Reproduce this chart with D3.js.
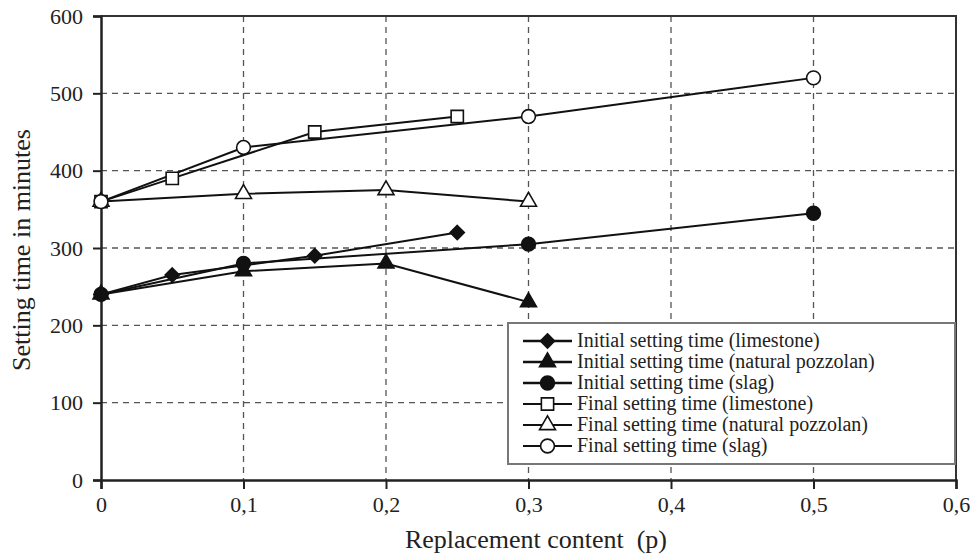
<!DOCTYPE html>
<html>
<head>
<meta charset="utf-8">
<script src="https://cdn.jsdelivr.net/npm/d3@7"></script>
<style>
  body { margin: 0; background: #fff; }
  text { font-family: "Liberation Serif", "Times New Roman", serif; fill: #222; }
  .grid line { stroke: #555; stroke-dasharray: 6,5; stroke-width: 1.3; }
  .series { fill: none; stroke: #111; stroke-width: 2; }
</style>
</head>
<body>
<div id="chart"></div>
<script>
(function setting() {

  var xTicks = [0, 0.1, 0.2, 0.3, 0.4, 0.5, 0.6];
  var yTicks = [0, 100, 200, 300, 400, 500, 600];

  var seriesNames = [
    "Initial setting time (limestone)",
    "Initial setting time (natural pozzolan)",
    "Initial setting time (slag)",
    "Final setting time (limestone)",
    "Final setting time (natural pozzolan)",
    "Final setting time (slag)"
  ];
  var seriesSymbols = ["diamond", "triangle", "circle", "square", "triangle", "circle"];
  var seriesFilled = [true, true, true, false, false, false];

  var initLimestoneP = [0, 0.05, 0.15, 0.25];
  var initLimestone = [240, 265, 290, 320];
  var initPozzolanP = [0, 0.1, 0.2, 0.3];
  var initPozzolan = [240, 270, 280, 230];
  var initSlagP = [0, 0.1, 0.3, 0.5];
  var initSlag = [240, 280, 305, 345];
  var finalLimestoneP = [0, 0.05, 0.15, 0.25];
  var finalLimestone = [360, 390, 450, 470];
  var finalPozzolanP = [0, 0.1, 0.2, 0.3];
  var finalPozzolan = [360, 370, 375, 360];
  var finalSlagP = [0, 0.1, 0.3, 0.5];
  var finalSlag = [360, 430, 470, 520];

  var seriesP = [initLimestoneP, initPozzolanP, initSlagP, finalLimestoneP, finalPozzolanP, finalSlagP];
  var seriesV = [initLimestone, initPozzolan, initSlag, finalLimestone, finalPozzolan, finalSlag];

  var margin = { top: 16, right: 17, bottom: 76, left: 101 },
    width = 973 - margin.left - margin.right,
    height = 556 - margin.top - margin.bottom;

  var x = d3.scaleLinear().domain([0, 0.6]).range([0, width]);
  var y = d3.scaleLinear().domain([0, 600]).range([height, 0]);

  var svg = d3.select("#chart").append("svg")
    .attr("width", 973)
    .attr("height", 556)
    .append("g")
    .attr("transform", "translate(" + margin.left + "," + margin.top + ")");

  // dashed grid
  svg.append("g").attr("class", "grid")
    .selectAll("line").data(yTicks.slice(1, -1)).enter().append("line")
    .attr("x1", 0).attr("x2", width)
    .attr("y1", function(d) { return y(d); }).attr("y2", function(d) { return y(d); });
  svg.append("g").attr("class", "grid")
    .selectAll("line").data(xTicks.slice(1, -1)).enter().append("line")
    .attr("y1", 0).attr("y2", height)
    .attr("x1", function(d) { return x(d); }).attr("x2", function(d) { return x(d); });

  // frame top/right
  svg.append("path")
    .attr("d", "M0,0H" + width + "V" + height)
    .attr("fill", "none").attr("stroke", "#333").attr("stroke-width", 2);

  var fmt = function(d) { return d === 0 ? "0" : d3.format(".1f")(d).replace(".", ","); };

  var xAxis = svg.append("g")
    .attr("transform", "translate(0," + height + ")")
    .call(d3.axisBottom(x).tickValues(xTicks).tickFormat(fmt).tickSize(9).tickPadding(7));
  var yAxis = svg.append("g")
    .call(d3.axisLeft(y).tickValues(yTicks).tickSize(8).tickPadding(10));

  [xAxis, yAxis].forEach(function(a) {
    a.select(".domain").attr("stroke", "#222").attr("stroke-width", 2.5);
    a.selectAll(".tick line").attr("stroke", "#222").attr("stroke-width", 2);
    a.selectAll(".tick text")
      .style("font-family", "Liberation Serif, serif")
      .style("font-size", "22px").attr("fill", "#222");
  });

  var diamond = {
    draw: function(ctx, size) {
      var r = Math.sqrt(size / 2);
      ctx.moveTo(0, -r); ctx.lineTo(r, 0); ctx.lineTo(0, r); ctx.lineTo(-r, 0); ctx.closePath();
    }
  };

  function symbolPath(kind) {
    var sym = { diamond: diamond, triangle: d3.symbolTriangle, circle: d3.symbolCircle, square: d3.symbolSquare }[kind];
    var size = { diamond: 100, triangle: 110, circle: 150, square: 150 }[kind];
    return d3.symbol().type(sym).size(size)();
  }

  var line = d3.line()
    .x(function(d) { return x(d[0]); })
    .y(function(d) { return y(d[1]); });

  seriesNames.forEach(function(name, i) {
    var pts = seriesP[i].map(function(p, j) { return [p, seriesV[i][j]]; });
    svg.append("path").datum(pts).attr("class", "series")
      .attr("stroke-width", seriesFilled[i] ? 2.4 : 1.8)
      .attr("d", line);
  });
  seriesNames.forEach(function(name, i) {
    var pts = seriesP[i].map(function(p, j) { return [p, seriesV[i][j]]; });
    svg.append("g").selectAll("path").data(pts).enter().append("path")
      .attr("transform", function(d) { return "translate(" + x(d[0]) + "," + y(d[1]) + ")"; })
      .attr("d", symbolPath(seriesSymbols[i]))
      .attr("fill", seriesFilled[i] ? "#111" : "#fff")
      .attr("stroke", "#111").attr("stroke-width", 1.6);
  });

  // legend
  var lg = svg.append("g").attr("transform", "translate(" + (508 - margin.left) + "," + (323 - margin.top) + ")");
  lg.append("rect")
    .attr("width", 447).attr("height", 141)
    .attr("fill", "#fff").attr("stroke", "#777").attr("stroke-width", 2);
  seriesNames.forEach(function(name, i) {
    var row = lg.append("g").attr("transform", "translate(0," + (18 + i * 21) + ")");
    row.append("line").attr("x1", 15).attr("x2", 64).attr("y1", 0).attr("y2", 0)
      .attr("stroke", "#111").attr("stroke-width", seriesFilled[i] ? 2.4 : 1.8);
    row.append("path").attr("transform", "translate(39.5,0)")
      .attr("d", symbolPath(seriesSymbols[i]))
      .attr("fill", seriesFilled[i] ? "#111" : "#fff")
      .attr("stroke", "#111").attr("stroke-width", 1.6);
    row.append("text").attr("x", 69).attr("y", 6)
      .style("font-size", "20px").text(name);
  });

  // axis titles
  svg.append("text")
    .attr("x", 536 - margin.left).attr("y", height + 68)
    .attr("text-anchor", "middle").style("font-size", "26px")
    .style("white-space", "pre")
    .text("Replacement content  (p)");
  svg.append("text")
    .attr("transform", "translate(" + (30 - margin.left) + "," + (250 - margin.top) + ") rotate(-90)")
    .attr("text-anchor", "middle").style("font-size", "26px")
    .text("Setting time in minutes");
})();
</script>
</body>
</html>
